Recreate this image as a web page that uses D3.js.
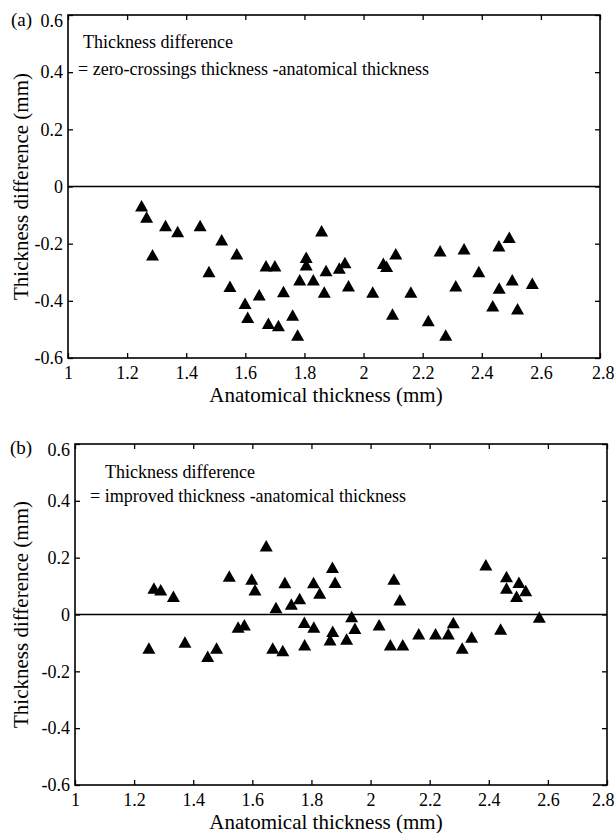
<!DOCTYPE html>
<html>
<head>
<meta charset="utf-8">
<script src="https://cdn.jsdelivr.net/npm/d3@7"></script>
<style>
  html, body { margin: 0; padding: 0; background: #fff; }
  svg { display: block; }
  text { font-family: "Liberation Serif", "Times New Roman", serif; fill: #000; }
</style>
</head>
<body>
<script>
// ---------- data ----------
const xTicks = [1, 1.2, 1.4, 1.6, 1.8, 2, 2.2, 2.4, 2.6, 2.8];
const yTicks = [-0.6, -0.4, -0.2, 0, 0.2, 0.4, 0.6];

const anatomicalA = [1.249, 1.266, 1.286, 1.330, 1.371, 1.447, 1.477, 1.520, 1.571, 1.548,
  1.599, 1.608, 1.647, 1.670, 1.700, 1.678, 1.712, 1.729, 1.760, 1.777,
  1.784, 1.806, 1.806, 1.830, 1.858, 1.873, 1.867, 1.918, 1.937, 1.949,
  2.031, 2.067, 2.078, 2.109, 2.098, 2.160, 2.219, 2.259, 2.278, 2.312,
  2.340, 2.390, 2.437, 2.459, 2.458, 2.493, 2.503, 2.521, 2.571];
const diffZeroCrossings = [-0.068, -0.108, -0.240, -0.137, -0.158, -0.137, -0.298, -0.187, -0.236, -0.350,
  -0.409, -0.458, -0.380, -0.278, -0.278, -0.479, -0.487, -0.368, -0.450, -0.520,
  -0.327, -0.248, -0.275, -0.327, -0.156, -0.295, -0.370, -0.286, -0.267, -0.348,
  -0.370, -0.269, -0.280, -0.236, -0.447, -0.370, -0.470, -0.226, -0.520, -0.348,
  -0.219, -0.298, -0.418, -0.356, -0.208, -0.178, -0.327, -0.429, -0.339];

const anatomicalB = [1.250, 1.267, 1.290, 1.333, 1.372, 1.449, 1.479, 1.522, 1.552, 1.573,
  1.598, 1.609, 1.647, 1.669, 1.680, 1.703, 1.710, 1.732, 1.760, 1.776,
  1.777, 1.807, 1.808, 1.828, 1.863, 1.871, 1.872, 1.880, 1.919, 1.936,
  1.947, 2.029, 2.067, 2.079, 2.099, 2.109, 2.163, 2.220, 2.263, 2.280,
  2.310, 2.342, 2.390, 2.440, 2.460, 2.460, 2.494, 2.502, 2.525, 2.571];
const diffImproved = [-0.119, 0.092, 0.086, 0.063, -0.098, -0.148, -0.119, 0.135, -0.045, -0.037,
  0.124, 0.086, 0.241, -0.119, 0.024, -0.128, 0.112, 0.036, 0.055, -0.028,
  -0.107, 0.112, -0.045, 0.075, -0.090, 0.165, -0.060, 0.113, -0.087, -0.008,
  -0.049, -0.037, -0.107, 0.124, 0.051, -0.107, -0.069, -0.069, -0.069, -0.029,
  -0.119, -0.080, 0.174, -0.052, 0.133, 0.092, 0.063, 0.113, 0.084, -0.010];

const xTitle = "Anatomical thickness (mm)";
const yTitle = "Thickness difference (mm)";

const panels = [
  { tag: "(a)", xs: anatomicalA, ys: diffZeroCrossings,
    note1: "Thickness difference", note2: "= zero-crossings thickness -anatomical thickness",
    box: { l: 68, r: 600, t: 15, b: 358 }, n1: [83, 48], n2: [78, 75], tagPos: [11, 26] },
  { tag: "(b)", xs: anatomicalB, ys: diffImproved,
    note1: "Thickness difference", note2: "= improved thickness -anatomical thickness",
    box: { l: 75, r: 607, t: 444, b: 785 }, n1: [105, 478], n2: [90, 502], tagPos: [10, 454] }
];

// ---------- drawing ----------
const W = 615, H = 833;
const svg = d3.select("body").append("svg").attr("width", W).attr("height", H);
const fmt = d => String(+(+d).toFixed(1));

panels.forEach(p => {
  const b = p.box;
  const x = d3.scaleLinear().domain([1, 2.8]).range([b.l, b.r]);
  const y = d3.scaleLinear().domain([-0.6, 0.6]).range([b.b, b.t]);
  const g = svg.append("g");

  // axes
  const bottom = g.append("g").attr("transform", `translate(0,${b.b})`)
    .call(d3.axisBottom(x).tickValues(xTicks).tickFormat(fmt).tickSize(-5).tickPadding(8));
  const left = g.append("g").attr("transform", `translate(${b.l},0)`)
    .call(d3.axisLeft(y).tickValues(yTicks).tickFormat(fmt).tickSize(-5).tickPadding(5));
  g.append("g").attr("transform", `translate(0,${b.t})`)
    .call(d3.axisTop(x).tickValues(xTicks).tickFormat("").tickSize(-5));
  g.append("g").attr("transform", `translate(${b.r},0)`)
    .call(d3.axisRight(y).tickValues(yTicks).tickFormat("").tickSize(-5));

  g.selectAll(".domain").remove();
  g.selectAll(".tick line").attr("stroke", "#000").attr("stroke-width", 1.3);
  g.selectAll(".tick text").style("font-size", "18px").attr("fill", "#000")
    .style("font-family", '"Liberation Serif", "Times New Roman", serif');
  left.selectAll(".tick").filter(d => d === 0.6).select("text").attr("dy", "0.62em");
  // keep the last x label inside the page
  bottom.selectAll(".tick").filter(d => d === 2.8).select("text")
    .attr("text-anchor", "end").attr("dx", (614 - b.r) + "px");

  // frame
  g.append("rect").attr("x", b.l).attr("y", b.t).attr("width", b.r - b.l).attr("height", b.b - b.t)
    .attr("fill", "none").attr("stroke", "#000").attr("stroke-width", 1.6);

  // zero line
  g.append("line").attr("x1", x(1)).attr("x2", x(2.8)).attr("y1", y(0)).attr("y2", y(0))
    .attr("stroke", "#000").attr("stroke-width", 1.4);

  // markers
  const pts = p.xs.map((v, i) => [v, p.ys[i]]);
  g.selectAll("path.mk").data(pts).enter().append("path").attr("class", "mk")
    .attr("d", "M0,-6L6.5,5.5L-6.5,5.5Z")
    .attr("transform", d => `translate(${x(d[0])},${y(d[1])})`)
    .attr("fill", "#000");

  // titles
  g.append("text").attr("x", 326).attr("y", b.b + 44).attr("text-anchor", "middle")
    .style("font-size", "21px").text(xTitle);
  g.append("text").attr("transform", `translate(28,${y(0)}) rotate(-90)`).attr("text-anchor", "middle")
    .style("font-size", "21px").text(yTitle);

  // annotations
  g.append("text").attr("x", p.n1[0]).attr("y", p.n1[1]).style("font-size", "18px").text(p.note1);
  g.append("text").attr("x", p.n2[0]).attr("y", p.n2[1]).style("font-size", "18px").text(p.note2);
  g.append("text").attr("x", p.tagPos[0]).attr("y", p.tagPos[1]).style("font-size", "19px").text(p.tag);
});
</script>
</body>
</html>
